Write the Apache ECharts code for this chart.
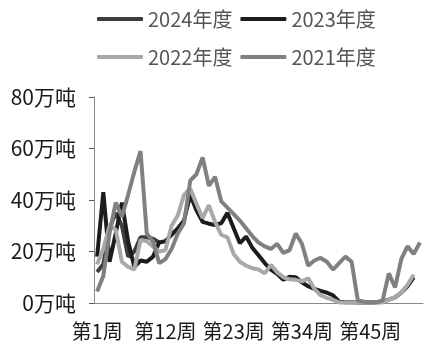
<!DOCTYPE html>
<html>
<head>
<meta charset="utf-8">
<script src="https://cdn.jsdelivr.net/npm/echarts@6/dist/echarts.min.js"></script>
<style>
  html, body { margin: 0; padding: 0; background: #fff; }
  #chart { width: 433px; height: 352px; }
</style>
</head>
<body>
<div id="chart"></div>
<script>
// weeks 1..53
const weeks = [];
for (let i = 1; i <= 53; i++) weeks.push('第' + i + '周');

const yTicks = [0, 20, 40, 60, 80];

// 万吨 per week
const s2024 = [12, 15, 29, 35, 30, 18, 20, 25.5, 25.5, 25, 23.5];
const s2023 = [18, 43, 16, 27, 39, 24, 14, 16.5, 16, 18, 23.5, 24, 26.5, 29, 32, 42,
  36, 31.5, 30.8, 30.3, 31, 35, 29, 23.2, 25.8, 21.5, 18.5, 15.5, 13, 11.3,
  9, 10.2, 10, 8, 6.5, 5.5, 4.7, 4, 3, 0.5,
  0.3, 0.3, 0.2, 0.2, 0.2, 0.3, 0.5,
  1.3, 2.2, 4, 6.5, 10];
const s2022 = [15, 21, 30, 28.5, 16, 14, 13, 24.5, 24, 22, 20, 20.5, 30, 34, 42, 44.5,
  38.5, 33, 38, 31.5, 26.5, 25.5, 19, 16, 14.5, 13.5, 13, 11.5, 14.8, 12,
  10, 9.2, 9, 8.4, 9.6, 5.5, 3, 2, 1.2, 0.2,
  0.2, 0.2, 0.2, 0.2, 0.2, 0.2, 0.2,
  1.2, 2.3, 4, 7, 11];
const s2021 = [4.5, 10.5, 27, 39, 33.5, 42, 51, 59, 27, 24,
  15.5, 17, 21, 27, 31, 47.5, 50, 56.5, 45.5, 49,
  39.5, 37, 34.5, 32, 29, 26, 23.5, 22, 21, 23,
  19.5, 20.5, 27, 23, 14.5, 16.5, 17.5, 16, 13, 15.5,
  18, 16, 1, 0.5, 0.3, 0.3, 1, 11.5, 6, 17,
  22, 19, 23.5];

const chart = echarts.init(document.getElementById('chart'));

const line = (name, data, color) => ({
  name: name,
  type: 'line',
  data: data,
  symbol: 'none',
  lineStyle: { color: color, width: 4 },
  itemStyle: { color: color }
});

const legendText = { fontSize: 20, color: '#555', width: 92, fontFamily: 'Noto Sans CJK SC' };
const legendBase = { left: 92, icon: 'roundRect', itemWidth: 46, itemHeight: 4, itemGap: 8, textStyle: legendText };

chart.setOption({
  animation: false,
  grid: { left: 94, right: 10, top: 97, bottom: 49, outerBoundsMode: 'none' },
  legend: [
    Object.assign({ data: ['2024年度', '2023年度'], top: 4 }, legendBase),
    Object.assign({ data: ['2022年度', '2021年度'], top: 42 }, legendBase)
  ],
  xAxis: {
    type: 'category',
    data: weeks,
    boundaryGap: true,
    axisLine: { lineStyle: { color: '#888', width: 1 } },
    axisTick: { interval: 0, length: 5, lineStyle: { color: '#555' } },
    axisLabel: { interval: 10, fontSize: 20, color: '#1a1a1a', margin: 18, fontFamily: 'Noto Sans CJK SC' },
    splitLine: { show: false }
  },
  yAxis: {
    type: 'value',
    min: yTicks[0],
    max: yTicks[yTicks.length - 1],
    interval: 20,
    axisLine: { show: true, lineStyle: { color: '#888', width: 1 } },
    axisTick: { show: true, length: 5, lineStyle: { color: '#555' } },
    axisLabel: { formatter: '{value}万吨', fontSize: 21, color: '#1a1a1a', margin: 18, fontFamily: 'Noto Sans CJK SC' },
    splitLine: { show: false }
  },
  series: [
    line('2024年度', s2024, '#3d3d3d'),
    line('2023年度', s2023, '#1c1c1c'),
    line('2022年度', s2022, '#a9a9a9'),
    line('2021年度', s2021, '#808080')
  ]
});
</script>
</body>
</html>
